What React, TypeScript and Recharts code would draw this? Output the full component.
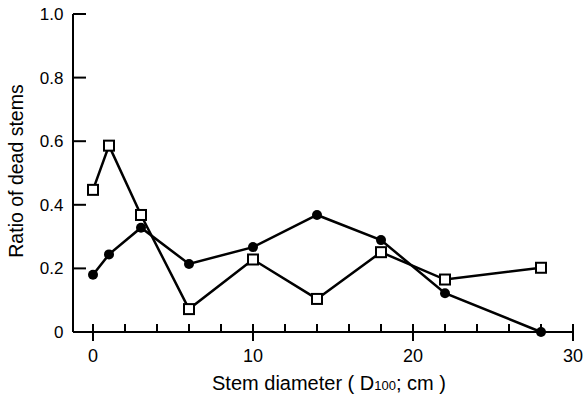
import React from 'react';
import { LineChart, Line, XAxis, YAxis } from 'recharts';

const diameters = [0, 1, 3, 6, 10, 14, 18, 22, 28];
const filledRatio = [0.18, 0.244, 0.328, 0.214, 0.267, 0.368, 0.289, 0.122, 0];
const openRatio = [0.447, 0.586, 0.368, 0.072, 0.228, 0.104, 0.251, 0.165, 0.202];
const xTicks = [0, 2, 4, 6, 8, 10, 12, 14, 16, 18, 20, 22, 24, 26, 28, 30];
const yTicks = [0, 0.2, 0.4, 0.6, 0.8, 1.0];

const data = diameters.map((d, i) => ({ d, filled: filledRatio[i], open: openRatio[i] }));

const FONT = '"Liberation Sans", Arial, sans-serif';

const XTick = (props: any) => {
  const { x, y, payload } = props;
  const major = payload.value % 10 === 0;
  return (
    <g>
      <line x1={x} x2={x} y1={y - 8} y2={major ? y + 9 : y} stroke="#000" strokeWidth={2} />
      {major && (
        <text x={x} y={y + 30} textAnchor="middle" fontSize={18} fontFamily={FONT} fill="#000">
          {payload.value}
        </text>
      )}
    </g>
  );
};

const YTick = (props: any) => {
  const { x, y, payload } = props;
  const v = payload.value;
  const label = v === 0 ? '0' : v.toFixed(1);
  return (
    <g>
      <line x1={x} x2={x + 13} y1={y} y2={y} stroke="#000" strokeWidth={2} />
      <text x={x - 9.5} y={y + 6} textAnchor="end" fontSize={17} fontFamily={FONT} fill="#000">
        {label}
      </text>
    </g>
  );
};

const OpenSquare = (p: any) => (
  <rect
    key={`sq-${p.index}`}
    x={p.cx - 5}
    y={p.cy - 5}
    width={10}
    height={10}
    fill="#fff"
    stroke="#000"
    strokeWidth={2}
  />
);

const FilledCircle = (p: any) => (
  <circle key={`ci-${p.index}`} cx={p.cx} cy={p.cy} r={5} fill="#000" />
);

export default function App() {
  return (
    <div style={{ position: 'absolute', left: 0, top: 0, background: '#fff' }}>
      <LineChart width={585} height={396} data={data} margin={{ top: 14, right: 12, bottom: 0, left: 0 }}>
        <XAxis
          dataKey="d"
          type="number"
          domain={[-1.25, 30]}
          ticks={xTicks}
          interval={0}
          tickSize={0}
          tickMargin={0}
          tickLine={false}
          tick={XTick}
          height={64}
          axisLine={{ stroke: '#000', strokeWidth: 2 }}
          label={{
            content: (lp: any) => {
              const vb = lp.viewBox;
              return (
                <text x={vb.x + vb.width / 2 + 6} y={vb.y + 58} textAnchor="middle" fontSize={20} fontFamily={FONT} fill="#000">
                  <tspan>Stem diameter ( D</tspan>
                  <tspan fontSize={13}>100</tspan>
                  <tspan>; cm )</tspan>
                </text>
              );
            },
          }}
        />
        <YAxis
          type="number"
          domain={[0, 1]}
          ticks={yTicks}
          interval={0}
          tickSize={0}
          tickMargin={0}
          tickLine={false}
          tick={YTick}
          width={73}
          axisLine={{ stroke: '#000', strokeWidth: 2 }}
          label={{
            content: (lp: any) => {
              const vb = lp.viewBox;
              const cy = vb.y + vb.height / 2 - 2;
              return (
                <text x={23} y={cy} transform={`rotate(-90, 23, ${cy})`} textAnchor="middle" fontSize={19.5} fontFamily={FONT} fill="#000">
                  Ratio of dead stems
                </text>
              );
            },
          }}
        />
        <Line dataKey="open" stroke="#000" strokeWidth={2.5} dot={OpenSquare} isAnimationActive={false} />
        <Line dataKey="filled" stroke="#000" strokeWidth={2.5} dot={FilledCircle} isAnimationActive={false} />
      </LineChart>
    </div>
  );
}
